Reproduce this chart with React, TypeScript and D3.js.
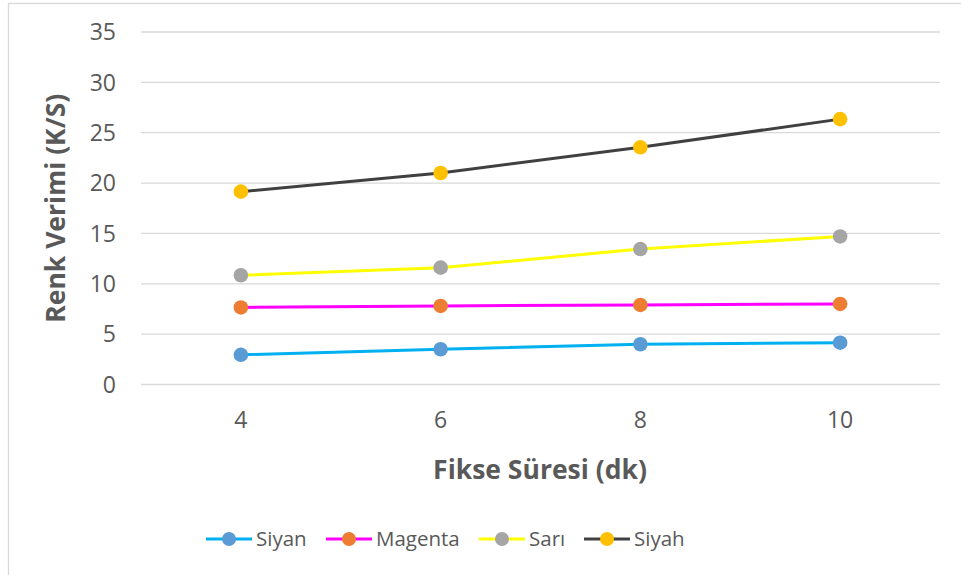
import React, {useEffect, useRef} from "react";
import * as d3 from 'd3';

const WIDTH = 961;
const HEIGHT = 575;
const FONT = "'Open Sans', 'Noto Sans', sans-serif";
const TEXT_COLOR = "#595959";

// data
const fikseSuresi = ["4", "6", "8", "10"];
const siyan = [2.95, 3.5, 4.0, 4.15];
const magenta = [7.65, 7.8, 7.9, 8.0];
const sari = [10.85, 11.6, 13.45, 14.7];
const siyah = [19.15, 21.0, 23.55, 26.35];
const yTicks = [0, 5, 10, 15, 20, 25, 30, 35];

const seriesList = [
    {name: "Siyan", values: siyan, line: "#00B0F0", marker: "#5B9BD5"},
    {name: "Magenta", values: magenta, line: "#FF00FF", marker: "#ED7D31"},
    {name: "Sarı", values: sari, line: "#FFFF00", marker: "#A5A5A5"},
    {name: "Siyah", values: siyah, line: "#404040", marker: "#FFC000"},
];

const PLOT = {left: 141, right: 940, top: 32, bottom: 384.5};

export default function App() {
    const ref = useRef<SVGSVGElement>(null);

    useEffect(() => {
        const svg = d3.select(ref.current);
        svg.selectAll('*').remove();

        // chart border (only top/left visible in the frame)
        svg.append('rect')
            .attr('x', 8.5).attr('y', 3.5)
            .attr('width', 1000).attr('height', 1000)
            .attr('fill', 'white')
            .attr('stroke', '#d9d9d9')
            .attr('stroke-width', 1.3);

        const xScale = d3.scalePoint<string>()
            .domain(fikseSuresi)
            .range([PLOT.left, PLOT.right])
            .padding(0.5);
        const yScale = d3.scaleLinear()
            .domain([0, 35])
            .range([PLOT.bottom, PLOT.top]);

        // gridlines
        svg.append('g')
            .selectAll('line')
            .data(yTicks)
            .enter()
            .append('line')
            .attr('x1', PLOT.left)
            .attr('x2', PLOT.right)
            .attr('y1', d => yScale(d))
            .attr('y2', d => yScale(d))
            .style('stroke', '#d9d9d9')
            .style('stroke-width', 1.3);

        // y tick labels
        svg.append('g')
            .selectAll('text')
            .data(yTicks)
            .enter()
            .append('text')
            .attr('x', 116)
            .attr('y', d => yScale(d))
            .attr('dy', '0.36em')
            .attr('text-anchor', 'end')
            .style('font-family', FONT)
            .style('font-size', '23px')
            .style('fill', TEXT_COLOR)
            .text(d => String(d));

        // x tick labels
        svg.append('g')
            .selectAll('text')
            .data(fikseSuresi)
            .enter()
            .append('text')
            .attr('x', d => xScale(d) as number)
            .attr('y', 420)
            .attr('dy', '0.36em')
            .attr('text-anchor', 'middle')
            .style('font-family', FONT)
            .style('font-size', '23px')
            .style('fill', TEXT_COLOR)
            .text(d => d);

        // axis titles
        svg.append('text')
            .attr('x', 540)
            .attr('y', 470)
            .attr('dy', '0.35em')
            .attr('text-anchor', 'middle')
            .style('font-family', FONT)
            .style('font-size', '26.5px')
            .style('font-weight', 'bold')
            .style('fill', TEXT_COLOR)
            .text('Fikse Süresi (dk)');

        svg.append('text')
            .attr('transform', 'translate(56,' + ((PLOT.top + PLOT.bottom) / 2) + ') rotate(-90)')
            .attr('dy', '0.35em')
            .attr('text-anchor', 'middle')
            .style('font-family', FONT)
            .style('font-size', '26.5px')
            .style('font-weight', 'bold')
            .style('fill', TEXT_COLOR)
            .text('Renk Verimi (K/S)');

        const line = d3.line<number>()
            .x((_, i) => xScale(fikseSuresi[i]) as number)
            .y(d => yScale(d));

        seriesList.forEach(s => {
            const g = svg.append('g');
            g.append('path')
                .datum(s.values)
                .attr('d', line)
                .attr('fill', 'none')
                .attr('stroke', s.line)
                .attr('stroke-width', 3)
                .attr('stroke-linejoin', 'round');
            g.selectAll('circle')
                .data(s.values)
                .enter()
                .append('circle')
                .attr('cx', (_, i) => xScale(fikseSuresi[i]) as number)
                .attr('cy', d => yScale(d))
                .attr('r', 7.3)
                .style('fill', s.marker);
        });

        // legend
        const legendX = [206, 326, 479, 584];
        const legendY = 539;
        seriesList.forEach((s, i) => {
            const g = svg.append('g').attr('transform', 'translate(' + legendX[i] + ',' + legendY + ')');
            g.append('line')
                .attr('x1', 0).attr('x2', 46)
                .attr('y1', 0).attr('y2', 0)
                .attr('stroke', s.line)
                .attr('stroke-width', 3);
            g.append('circle')
                .attr('cx', 23).attr('cy', 0).attr('r', 7)
                .style('fill', s.marker);
            g.append('text')
                .attr('x', 50)
                .attr('y', 0)
                .attr('dy', '0.36em')
                .style('font-family', FONT)
                .style('font-size', '20.5px')
                .style('fill', TEXT_COLOR)
                .text(s.name);
        });
    }, []);

    return (
        <svg ref={ref} width={WIDTH} height={HEIGHT}
             style={{position: 'absolute', left: 0, top: 0, background: 'white'}}/>
    );
}
